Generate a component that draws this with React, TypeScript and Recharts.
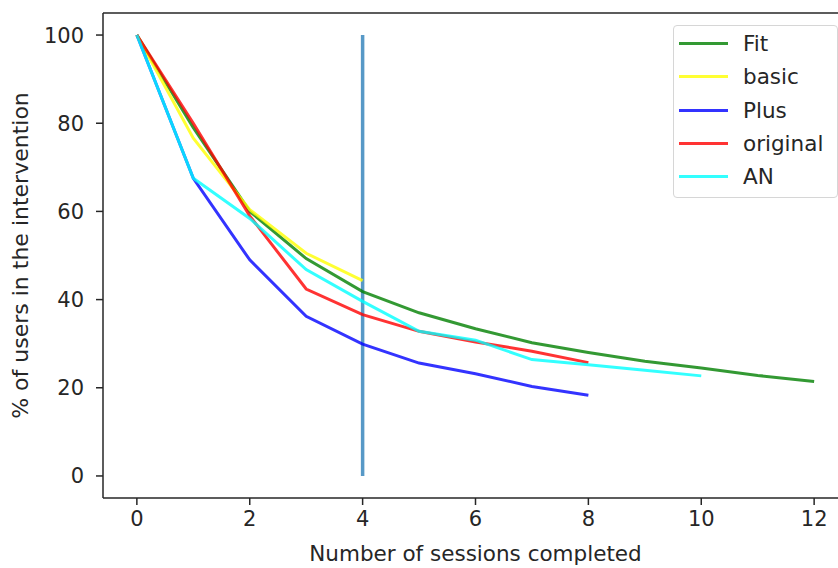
import React from "react";
import { LineChart, Line, XAxis, YAxis, ReferenceLine } from "recharts";

// sessions completed (x) and % of users still in the intervention per arm
const sessions = [0, 1, 2, 3, 4, 5, 6, 7, 8, 9, 10, 11, 12];
const fitPct = [100, 79, 60, 49.3, 41.8, 37, 33.4, 30.2, 28, 26, 24.5, 22.8, 21.4];
const basicPct = [100, 76.6, 60.4, 50.5, 44.3];
const plusPct = [100, 67.5, 49, 36.2, 29.9, 25.6, 23.2, 20.3, 18.3];
const originalPct = [100, 80, 59, 42.4, 36.6, 32.8, 30.4, 28.3, 25.7];
const anPct = [100, 67.5, 58.4, 46.8, 39.6, 32.8, 30.8, 26.4, 25.2, 24, 22.7];

const xTicks = [0, 2, 4, 6, 8, 10, 12];
const yTicks = [0, 20, 40, 60, 80, 100];
const cutoffSession = 4;

const series = [
  { name: "Fit", color: "#008000", values: fitPct },
  { name: "basic", color: "#ffff00", values: basicPct },
  { name: "Plus", color: "#0000ff", values: plusPct },
  { name: "original", color: "#ff0000", values: originalPct },
  { name: "AN", color: "#00ffff", values: anPct },
];

const toPoints = (vals: number[]) => vals.map((v, i) => ({ session: sessions[i], pct: v }));

const FONT = "DejaVu Sans";
const INK = "#262626";

// legend sits over the plot, top right, like a matplotlib "best" legend
function LegendBox() {
  return (
    <div
      style={{
        position: "absolute",
        left: 673,
        top: 25,
        background: "#fff",
        border: "1px solid #d6d6d6",
        borderRadius: 4,
        padding: "1px 0 4px 0",
        width: 163,
        fontFamily: FONT,
        fontSize: 21.5,
        color: INK,
      }}
    >
      {series.map((s) => (
        <div key={s.name} style={{ display: "flex", alignItems: "center", height: 33.3 }}>
          <div
            style={{
              width: 49,
              height: 3,
              marginLeft: 5,
              marginRight: 15,
              background: s.color,
              opacity: 0.8,
            }}
          />
          <span>{s.name}</span>
        </div>
      ))}
    </div>
  );
}

export default function App() {
  return (
    <div
      style={{
        position: "fixed",
        left: 0,
        top: 0,
        width: 838,
        height: 568,
        overflow: "hidden",
        background: "#fff",
      }}
    >
      <LineChart width={850} height={568} margin={{ top: 13, right: 2, bottom: 0, left: 0 }}>
        <XAxis
          dataKey="session"
          type="number"
          domain={[-0.6, 12.6]}
          ticks={xTicks}
          allowDataOverflow
          height={70}
          stroke={INK}
          strokeWidth={1.5}
          tickSize={7}
          tickMargin={6}
          tick={{ fill: INK, fontSize: 21, fontFamily: FONT }}
          label={{
            value: "Number of sessions completed",
            position: "insideBottom",
            offset: 7,
            style: { fill: INK, fontSize: 21.5, fontFamily: FONT },
          }}
        />
        <YAxis
          type="number"
          domain={[-5, 105]}
          ticks={yTicks}
          allowDataOverflow
          width={103}
          stroke={INK}
          strokeWidth={1.5}
          tickSize={7}
          tickMargin={12}
          tick={{ fill: INK, fontSize: 21, fontFamily: FONT }}
          label={{
            value: "% of users in the intervention",
            angle: -90,
            position: "insideLeft",
            offset: 20,
            style: { fill: INK, fontSize: 22, fontFamily: FONT, textAnchor: "middle" },
          }}
        />
        {/* top spine of the frame */}
        <ReferenceLine y={105} stroke={INK} strokeWidth={1.5} />
        <ReferenceLine
          segment={[
            { x: cutoffSession, y: 0 },
            { x: cutoffSession, y: 100 },
          ]}
          stroke="#1f77b4"
          strokeOpacity={0.75}
          strokeWidth={3.5}
        />
        {series.map((s) => (
          <Line
            key={s.name}
            name={s.name}
            data={toPoints(s.values)}
            dataKey="pct"
            type="linear"
            stroke={s.color}
            strokeOpacity={0.8}
            strokeWidth={3}
            dot={false}
            activeDot={false}
            isAnimationActive={false}
          />
        ))}
      </LineChart>
      <LegendBox />
    </div>
  );
}
